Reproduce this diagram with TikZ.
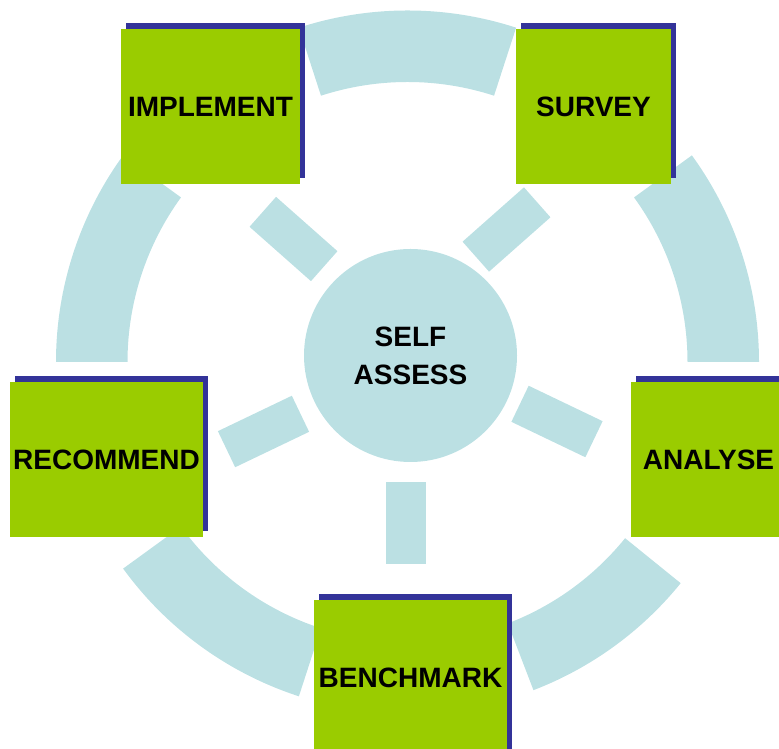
\documentclass[tikz,border=0pt]{standalone}
\usepackage{fontspec}
\setmainfont{Liberation Sans}
\usetikzlibrary{shadows}

\definecolor{ringblue}{HTML}{BBE0E3}
\definecolor{boxgreen}{HTML}{9ACC00}
\definecolor{shadowblue}{HTML}{333399}

\begin{document}
\begin{tikzpicture}
[   x=1pt,y=1pt,
    gbox/.style={fill=boxgreen,minimum height=155,minimum width=#1,inner sep=0pt,
                 general shadow={fill=shadowblue,shadow xshift=5pt,shadow yshift=6pt},
                 font=\fontsize{28}{34}\selectfont\bfseries},
    spoke/.style={fill=ringblue,minimum width=82,minimum height=40,inner sep=0pt,rotate=#1},
    hub/.style={fill=ringblue,circle,minimum size=213,inner sep=0pt,align=center,
                font=\fontsize{28}{38}\selectfont\bfseries},
]
    \useasboundingbox (0,0) rectangle (779,749);
    \clip (0,0) rectangle (779,749);

%%%%%%%%%%%%%%%%%%%% OUTER RING %%%%%%%%%%%%%%%%%%%%%%%%%%%%%%%%%%%
    \coordinate (ring) at (407.5,387);
    \foreach \a/\b in {0/36, 72/108, 144/180, -144/-108, -69/-39}
    {
        \fill[ringblue] ([shift={(\a:351.5)}]ring) arc[start angle=\a,end angle=\b,radius=351.5]
            -- ([shift={(\b:280)}]ring) arc[start angle=\b,end angle=\a,radius=280] -- cycle;
    }

%%%%%%%%%%%%%%%%%%%% SPOKES %%%%%%%%%%%%%%%%%%%%%%%%%%%%%%%%%%%
    \node[spoke=-41.5] (sp1) at (293.5,510) {};
    \node[spoke=41.5] (sp2) at (506.5,519.5) {};
    \node[spoke=-25.6] (sp3) at (557,327.5) {};
    \node[spoke=90] (sp4) at (405.5,226) {};
    \node[spoke=25.6] (sp5) at (263.5,317.5) {};

%%%%%%%%%%%%%%%%%%%% CENTRE %%%%%%%%%%%%%%%%%%%%%%%%%%%%%%%%%%%
    \node[hub] (self) at (410.5,393.5) {SELF\\ASSESS};

%%%%%%%%%%%%%%%%%%%% STEPS %%%%%%%%%%%%%%%%%%%%%%%%%%%%%%%%%%%
    \node[gbox=179] (implement) at (210.5,642.5) {IMPLEMENT};
    \node[gbox=155] (survey) at (593.5,642.5) {SURVEY};
    \node[gbox=155] (analyse) at (708.5,289.5) {ANALYSE};
    \node[gbox=193] (benchmark) at (410.5,71.5) {BENCHMARK};
    \node[gbox=193] (recommend) at (106.5,289.5) {RECOMMEND};

\end{tikzpicture}
\end{document}
